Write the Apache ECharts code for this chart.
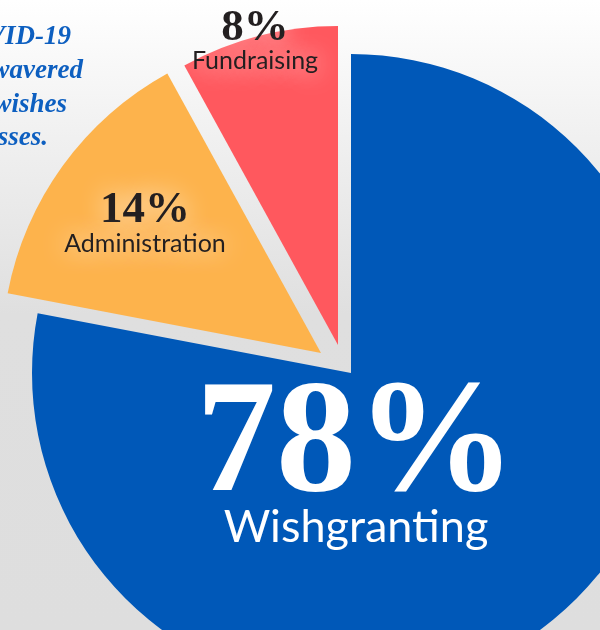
<!DOCTYPE html>
<html>
<head>
<meta charset="utf-8">
<script src="https://cdn.jsdelivr.net/npm/echarts@6/dist/echarts.min.js"></script>
<style>
html,body{margin:0;padding:0;}
#chart{width:600px;height:630px;}
</style>
</head>
<body>
<div id="chart"></div>
<script>
// ---- data ----
var categories = ['Wishgranting', 'Administration', 'Fundraising'];
var values = [78, 14, 8];
var colors = ['#0058b8', '#fdb34c', '#ff585e'];
var introLines = ['VID-19', 'wavered', 'wishes', 'sses.'];

// ---- layout (pixel positions, styles) ----
var centers = [[351, 373], [321, 353], [338, 345]];
var radius = 319;
var labelPos = [[356, 472], [145, 223], [255, 41]];
var pctSize = [160, 45, 45];
var nameSize = [45, 25, 25];
var pctLH = [110, 42, 40];
var nameLH = [46, 26, 25];
var textColors = ['#ffffff', '#231f20', '#231f20'];

var chart = echarts.init(document.getElementById('chart'), null, {renderer: 'canvas'});

var series = categories.map(function (cat, i) {
  var glow = i === 0 ? {} : {textShadowColor: 'rgba(255,255,255,1)', textShadowBlur: 26};
  return {
    type: 'pie',
    silent: true,
    animation: false,
    center: centers[i],
    radius: [0, radius],
    startAngle: 90,
    clockwise: true,
    avoidLabelOverlap: false,
    emphasis: {disabled: true},
    labelLine: {show: false},
    labelLayout: function () {
      return {x: labelPos[i][0], y: labelPos[i][1], align: 'center', verticalAlign: 'middle'};
    },
    data: categories.map(function (name, j) {
      return {
        name: name,
        value: values[j],
        itemStyle: {color: j === i ? colors[j] : 'rgba(0,0,0,0)'},
        label: {
          show: j === i,
          position: 'inside',
          formatter: function (p) { return '{p|' + p.value + '%}\n{n|' + p.name + '}'; },
          rich: {
            p: Object.assign({
              fontFamily: '"Liberation Serif", serif',
              fontWeight: 'bold',
              fontSize: pctSize[i],
              lineHeight: pctLH[i],
              color: textColors[i],
              align: 'center'
            }, glow),
            n: Object.assign({
              fontFamily: 'Lato, sans-serif',
              fontSize: nameSize[i],
              lineHeight: nameLH[i],
              color: textColors[i],
              align: 'center'
            }, glow)
          }
        }
      };
    })
  };
});

var introBaselines = [47, 81, 115, 148];
var introRight = [71, 83, 67, 48];
var graphics = introLines.map(function (t, k) {
  return {
    type: 'text',
    silent: true,
    style: {
      text: t,
      x: introRight[k],
      y: introBaselines[k] - 9.5,
      align: 'right',
      verticalAlign: 'middle',
      font: 'italic bold 27px "Liberation Serif", serif',
      fill: '#0d5fc0'
    }
  };
});

chart.setOption({
  animation: false,
  backgroundColor: new echarts.graphic.LinearGradient(0, 0, 0, 1, [
    {offset: 0, color: '#ffffff'},
    {offset: 0.22, color: '#f0f0f0'},
    {offset: 0.5, color: '#dfdfdf'},
    {offset: 1, color: '#dedede'}
  ]),
  series: series,
  graphic: graphics
});
</script>
</body>
</html>
